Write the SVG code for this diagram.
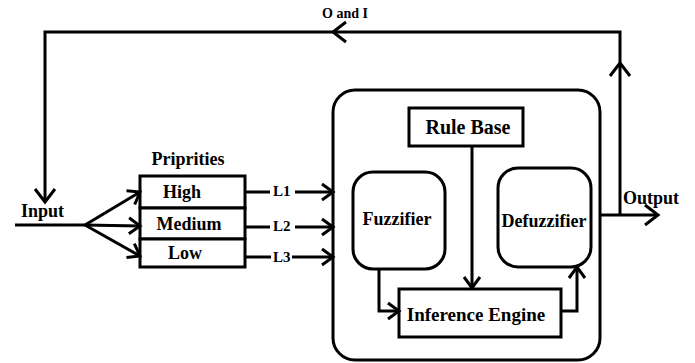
<svg xmlns="http://www.w3.org/2000/svg" width="695" height="363" viewBox="0 0 695 363">
<style>
.ln{fill:none;stroke:#000;stroke-width:3}
.bx{fill:#fff;stroke:#000;stroke-width:3}
.t{font-size:18px}
.s{font-size:15px}
.xs{font-size:14px}
</style>
<defs>
<marker id="ah" markerUnits="userSpaceOnUse" orient="auto" markerWidth="30" markerHeight="30" refX="0" refY="0" viewBox="-15 -15 30 30" overflow="visible">
<path d="M-13,-10 L0,0 L-13,10" fill="none" stroke="#000" stroke-width="3"/>
</marker>
<marker id="as" markerUnits="userSpaceOnUse" orient="auto" markerWidth="30" markerHeight="30" refX="0" refY="0" viewBox="-15 -15 30 30" overflow="visible">
<path d="M-11,-8 L0,0 L-11,8" fill="none" stroke="#000" stroke-width="3"/>
</marker>
</defs>
<rect width="695" height="363" fill="#fff"/>
<g font-family="'Liberation Serif', 'Times New Roman', 'DejaVu Serif', serif" font-weight="bold" fill="#000">
<g id="system">
<rect class="bx" x="333" y="90" width="267" height="270" rx="22"/>
</g>
<g id="priorities">
<text class="t" x="188" y="165" text-anchor="middle">Priprities</text>
</g>
<g id="high"><rect class="bx" x="140" y="176" width="105" height="32"/><text class="t" x="182" y="198" text-anchor="middle">High</text></g>
<g id="medium"><rect class="bx" x="140" y="208" width="105" height="31"/><text class="t" x="189" y="230" text-anchor="middle">Medium</text></g>
<g id="low"><rect class="bx" x="140" y="239" width="105" height="28"/><text class="t" x="185" y="259" text-anchor="middle">Low</text></g>
<g id="rulebase"><rect class="bx" x="409" y="108" width="114" height="38"/><text x="468" y="134" text-anchor="middle" font-size="20">Rule Base</text></g>
<g id="fuzzifier"><rect class="bx" x="353" y="172" width="92" height="97" rx="20"/><text class="t" x="397" y="225" text-anchor="middle">Fuzzifier</text></g>
<g id="defuzzifier"><rect class="bx" x="498" y="168" width="93" height="99" rx="20"/><text class="t" x="544" y="227" text-anchor="middle">Defuzzifier</text></g>
<g id="inference"><rect class="bx" x="399" y="289" width="162" height="48"/><text x="476" y="321" text-anchor="middle" font-size="19">Inference Engine</text></g>
<g id="connectors">
<path class="ln" d="M15,225 H85"/>
<path class="ln" d="M85,225 L140,192" marker-end="url(#as)"/>
<path class="ln" d="M85,225 L140,226" marker-end="url(#as)"/>
<path class="ln" d="M85,225 L140,256" marker-end="url(#as)"/>
<path class="ln" d="M245,192 H270"/>
<path class="ln" d="M295,192 H333" marker-end="url(#as)"/>
<path class="ln" d="M245,227 H270"/>
<path class="ln" d="M295,227 H333" marker-end="url(#as)"/>
<path class="ln" d="M245,257 H271"/>
<path class="ln" d="M292,257 H333" marker-end="url(#as)"/>
<path class="ln" d="M472,146 V288" marker-end="url(#as)"/>
<path class="ln" d="M379,269 V311 H399" marker-end="url(#as)"/>
<path class="ln" d="M561,311 H577 V267" marker-end="url(#as)"/>
<path class="ln" d="M600,215 H658" marker-end="url(#ah)"/>
<path class="ln" d="M620,215 V63" marker-end="url(#ah)"/>
<path class="ln" d="M620,63 V32 H333" marker-end="url(#ah)"/>
<path class="ln" d="M333,32 H45 V202" marker-end="url(#ah)"/>
</g>
<g id="labels">
<text class="t" x="21" y="217">Input</text>
<text class="t" x="623" y="204">Output</text>
<text class="xs" x="322" y="18">O and I</text>
<text class="s" x="273" y="196">L1</text>
<text class="s" x="273" y="231">L2</text>
<text class="s" x="273" y="262">L3</text>
</g>
</g>
</svg>
